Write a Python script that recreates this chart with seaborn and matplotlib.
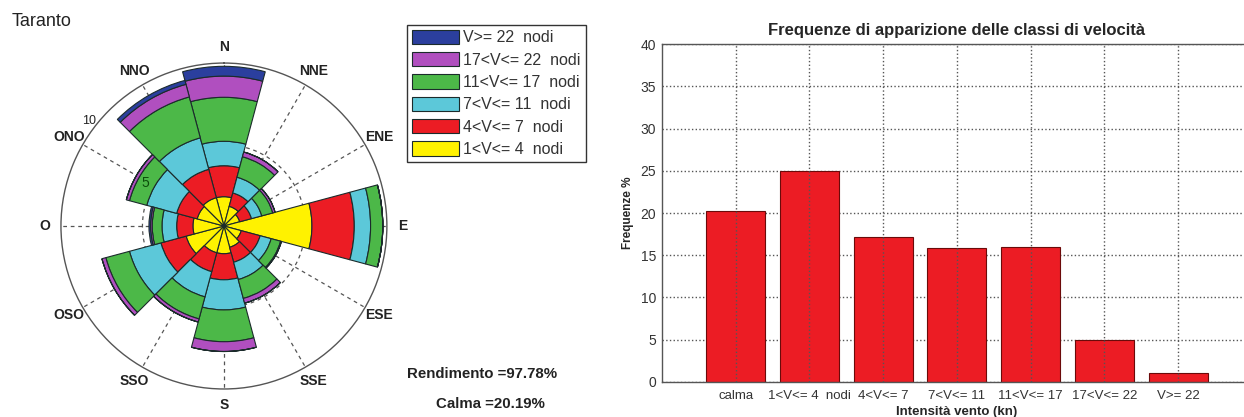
import numpy as np
import pandas as pd
import matplotlib
matplotlib.use('Agg')
import matplotlib.pyplot as plt
import seaborn as sns

# Rosa dei venti - Taranto (frequenze % per settore di 30 gradi)
directions = ['N', 'NNE', 'ENE', 'E', 'ESE', 'SSE', 'S', 'SSO', 'OSO', 'O', 'ONO', 'NNO']
dir_angles = [0, 30, 60, 90, 120, 150, 180, 210, 240, 270, 300, 330]

freq_1_4 = [1.8, 1.25, 1.0, 5.4, 1.1, 1.35, 1.7, 1.7, 2.4, 1.9, 1.7, 1.8]
freq_4_7 = [1.9, 0.85, 0.75, 2.6, 1.2, 0.95, 1.6, 1.2, 1.6, 1.0, 1.3, 1.8]
freq_7_11 = [1.5, 1.0, 0.65, 1.0, 0.7, 1.1, 1.85, 1.6, 2.0, 0.9, 1.9, 2.0]
freq_11_17 = [2.7, 1.3, 0.7, 0.75, 0.6, 1.2, 1.95, 1.4, 1.5, 0.6, 1.1, 2.6]
freq_17_22 = [1.3, 0.3, 0.15, 0.0, 0.05, 0.3, 0.6, 0.2, 0.25, 0.1, 0.2, 0.8]
freq_22 = [0.6, 0.0, 0.0, 0.0, 0.0, 0.0, 0.0, 0.0, 0.0, 0.1, 0.0, 0.25]

legend_labels = ['1<V<= 4  nodi', '4<V<= 7  nodi', '7<V<= 11  nodi',
                 '11<V<= 17  nodi', '17<V<= 22  nodi', 'V>= 22  nodi']
rose_colors = ['#fff200', '#ec1c24', '#5cc8d9', '#4cb848', '#b04fbf', '#2b3f9e']
r_ticks = [5, 10]

# Frequenze delle classi di velocita
classes = ['calma', '1<V<= 4  nodi', '4<V<= 7', '7<V<= 11', '11<V<= 17', '17<V<= 22', 'V>= 22']
freq = [20.19, 25.0, 17.1, 15.8, 16.0, 4.9, 1.0]

rendimento = 97.78
calma = freq[0]

sns.set_style('white')
plt.rcParams['font.family'] = ['Liberation Sans', 'DejaVu Sans']

fig = plt.figure(figsize=(12.44, 4.17), dpi=100)

# --- rosa dei venti ---
ax = fig.add_axes([0.049, 0.067, 0.262, 0.782], projection='polar')
ax.set_theta_zero_location('N')
ax.set_theta_direction(-1)

theta = np.deg2rad(dir_angles)
width = np.deg2rad(30)
bottom = np.zeros(len(directions))
handles = []
for vals, col in zip([freq_1_4, freq_4_7, freq_7_11, freq_11_17, freq_17_22, freq_22], rose_colors):
    b = ax.bar(theta, vals, width=width, bottom=bottom, color=col,
               edgecolor='#1b2b2b', linewidth=0.8, align='center')
    handles.append(b)
    bottom = bottom + np.array(vals)

ax.set_ylim(0, 10)
ax.set_yticks(r_ticks[:1])
ax.set_yticklabels([])
ax.set_xticks(theta)
ax.set_xticklabels(directions, fontsize=10, fontweight='bold', color='#222222')
ax.tick_params(axis='x', pad=1)
ax.grid(True, linestyle=(0, (3, 3)), color='#555555', linewidth=0.9)
ax.set_axisbelow(True)
ax.spines['polar'].set_color('#555555')
ax.spines['polar'].set_linewidth(1.0)

ax.text(np.deg2rad(299), 5.5, str(r_ticks[0]), fontsize=10, color='#0b4d0b',
        ha='center', va='center', zorder=5)
ax.text(np.deg2rad(308), 10.5, str(r_ticks[1]), fontsize=9, color='#222222',
        ha='center', va='center', zorder=5)

fig.text(0.0096, 0.948, 'Taranto', fontsize=13, va='center', color='#222222')

leg = fig.legend([h for h in handles[::-1]], legend_labels[::-1], loc='upper left',
                 bbox_to_anchor=(0.327, 0.94), borderaxespad=0, frameon=True,
                 fancybox=False, edgecolor='#333333', framealpha=1, fontsize=11.5,
                 handlelength=3.0, handleheight=1.0, labelspacing=0.42,
                 handletextpad=0.25, borderpad=0.3)
leg.get_frame().set_linewidth(1.0)
for t in leg.get_texts():
    t.set_color('#333333')

fig.text(0.3875, 0.102, f'Rendimento ={rendimento:.2f}%', ha='center', va='center',
         fontsize=10.8, fontweight='bold', color='#222222')
fig.text(0.394, 0.030, f'Calma ={calma:.2f}%', ha='center', va='center',
         fontsize=10.8, fontweight='bold', color='#222222')

# --- istogramma classi di velocita ---
ax2 = fig.add_axes([0.532, 0.0847, 0.4744, 0.809])
df = pd.DataFrame({'classe': classes, 'freq': freq})
sns.barplot(data=df, x='classe', y='freq', color='#ec1c24', saturation=1, width=0.8,
            edgecolor='#6b0a0a', linewidth=0.8, ax=ax2)
ax2.set_xlim(-1, 7)
ax2.set_ylim(0, 40)
ax2.set_yticks(np.arange(0, 41, 5))
ax2.grid(True, linestyle=':', color='#555555', linewidth=1.0)
ax2.set_axisbelow(True)
ax2.xaxis.set_zorder(3)
for s in ['top', 'left', 'bottom', 'right']:
    ax2.spines[s].set_color('#555555')
    ax2.spines[s].set_linewidth(1.0)
ax2.tick_params(direction='in', length=4, color='#555555')
ax2.tick_params(axis='y', labelsize=10, pad=4, labelcolor='#333333')
ax2.tick_params(axis='x', labelsize=9.5, pad=6, labelcolor='#333333')
ax2.set_xlabel('Intensità vento (kn)', fontsize=9.5, fontweight='bold', labelpad=3)
ax2.set_ylabel('Frequenze %', fontsize=8.5, fontweight='bold', labelpad=5)
ax2.set_title('Frequenze di apparizione delle classi di velocità', fontsize=12,
              fontweight='bold', pad=7)

fig.savefig('out.png', dpi=100)
